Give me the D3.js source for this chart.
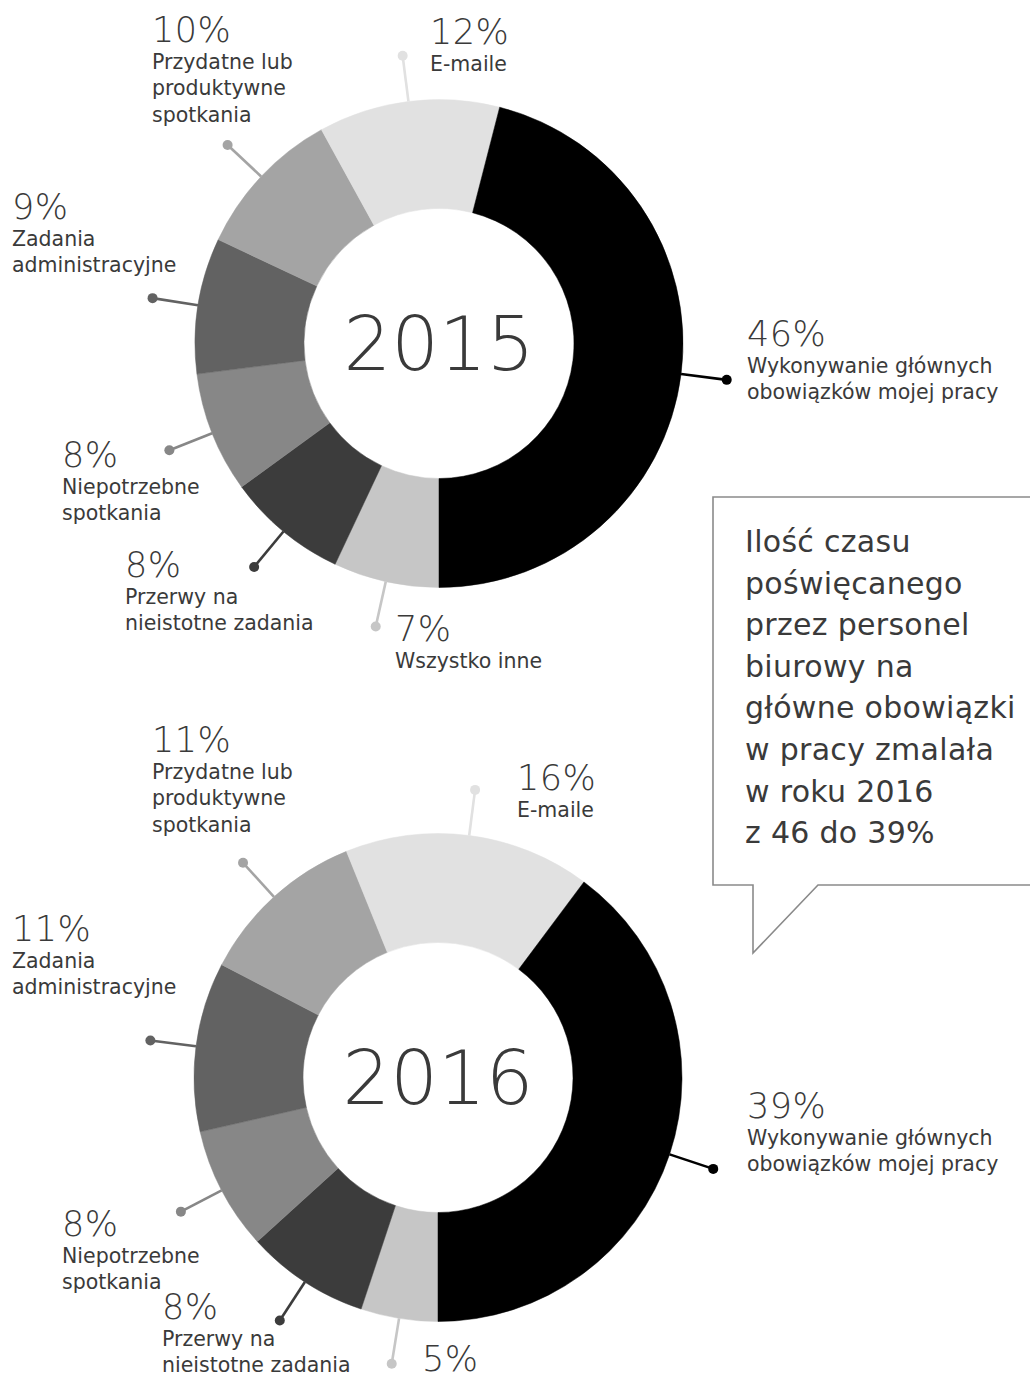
<!DOCTYPE html>
<html>
<head>
<meta charset="utf-8">
<script src="https://cdn.jsdelivr.net/npm/d3@7"></script>
<style>
  html, body { margin: 0; padding: 0; background: #fff; }
  svg { display: block; }
  text { font-family: "DejaVu Sans", "Noto Sans", sans-serif; fill: #3a3a3a; }
</style>
</head>
<body>
<svg id="chart" width="1030" height="1380"></svg>
<script>
// Categories in drawing order, clockwise from 6 o'clock
const categories = [
  "Wszystko inne",
  "Przerwy na nieistotne zadania",
  "Niepotrzebne spotkania",
  "Zadania administracyjne",
  "Przydatne lub produktywne spotkania",
  "E-maile",
  "Wykonywanie głównych obowiązków mojej pracy"
];
const labelLines = [
  ["Wszystko inne"],
  ["Przerwy na", "nieistotne zadania"],
  ["Niepotrzebne", "spotkania"],
  ["Zadania", "administracyjne"],
  ["Przydatne lub", "produktywne", "spotkania"],
  ["E-maile"],
  ["Wykonywanie głównych", "obowiązków mojej pracy"]
];
const years = ["2015", "2016"];
const values2015 = [7, 8, 8, 9, 10, 12, 46];
const values2016 = [5, 8, 8, 11, 11, 16, 39];
const calloutLines = [
  "Ilość czasu",
  "poświęcanego",
  "przez personel",
  "biurowy na",
  "główne obowiązki",
  "w pracy zmalała",
  "w roku 2016",
  "z 46 do 39%"
];

// Styling and layout
const W = 1030, H = 1380;
const colors = ["#c6c6c6", "#3c3c3c", "#878787", "#626262", "#a4a4a4", "#e1e1e1", "#000000"];
const outerR = 244, innerR = 135, dotR = 290;
const charts = [
  { year: years[0], values: values2015, cx: 439, cy: 343.5,
    labels: [[395, 641], [125, 577], [62, 467], [12, 219], [152, 42], [430, 44], [747, 346]] },
  { year: years[1], values: values2016, cx: 438, cy: 1077.5,
    labels: [[422, 1371], [162, 1319], [62, 1236], [12, 941], [152, 752], [517, 790], [747, 1118]] }
];

const svg = d3.select("#chart");
svg.append("rect").attr("width", W).attr("height", H).attr("fill", "#fff");

const color = d3.scaleOrdinal().domain(categories).range(colors);
const pie = d3.pie().sort(null).value(d => d.value)
  .startAngle(Math.PI).endAngle(3 * Math.PI);
const arc = d3.arc().innerRadius(innerR).outerRadius(outerR);

// Speech-bubble callout
const bubble = d3.path();
bubble.moveTo(W + 5, 497);
bubble.lineTo(713, 497);
bubble.lineTo(713, 885);
bubble.lineTo(753, 885);
bubble.lineTo(753, 953);
bubble.lineTo(818, 885);
bubble.lineTo(W + 5, 885);
svg.append("path").attr("d", bubble.toString())
  .attr("fill", "#fff").attr("stroke", "#8a8a8a").attr("stroke-width", 1.6);

svg.append("g").selectAll("text").data(calloutLines).join("text")
  .attr("x", 745).attr("y", (d, i) => 552 + i * 41.6)
  .attr("font-size", 30).attr("letter-spacing", 0.3)
  .text(d => d);

charts.forEach(ch => {
  const rows = categories.map((c, i) => ({ cat: c, value: ch.values[i], lines: labelLines[i], pos: ch.labels[i] }));
  const arcs = pie(rows);
  const g = svg.append("g").attr("transform", `translate(${ch.cx},${ch.cy})`);

  g.selectAll("path.slice").data(arcs).join("path")
    .attr("class", "slice")
    .attr("d", arc)
    .attr("fill", d => color(d.data.cat))
    .attr("stroke", d => color(d.data.cat))
    .attr("stroke-width", 0.5);

  // Leader lines with dots at each slice's mid-angle
  const mid = d => (d.startAngle + d.endAngle) / 2;
  g.selectAll("line.leader").data(arcs).join("line")
    .attr("class", "leader")
    .attr("x1", d => Math.sin(mid(d)) * outerR)
    .attr("y1", d => -Math.cos(mid(d)) * outerR)
    .attr("x2", d => Math.sin(mid(d)) * dotR)
    .attr("y2", d => -Math.cos(mid(d)) * dotR)
    .attr("stroke", d => color(d.data.cat))
    .attr("stroke-width", 2.6);
  g.selectAll("circle.dot").data(arcs).join("circle")
    .attr("class", "dot")
    .attr("cx", d => Math.sin(mid(d)) * dotR)
    .attr("cy", d => -Math.cos(mid(d)) * dotR)
    .attr("r", 5)
    .attr("fill", d => color(d.data.cat));

  // Year in the hole
  g.append("text")
    .attr("text-anchor", "middle")
    .attr("y", 26.5)
    .attr("font-size", 75).attr("font-weight", 200)
    .text(ch.year);

  // Labels: percentage, then description lines that fit on the page
  const lg = svg.append("g");
  rows.forEach(r => {
    const [x, y] = r.pos;
    lg.append("text").attr("x", x).attr("y", y)
      .attr("font-size", 35).attr("font-weight", 200).attr("letter-spacing", 0.5)
      .text(r.value + "%");
    r.lines.forEach((ln, j) => {
      const ly = y + 27 + j * 26.3;
      if (ly > H) return;
      lg.append("text").attr("x", x).attr("y", ly)
        .attr("font-size", 20.5)
        .text(ln);
    });
  });
});
</script>
</body>
</html>
